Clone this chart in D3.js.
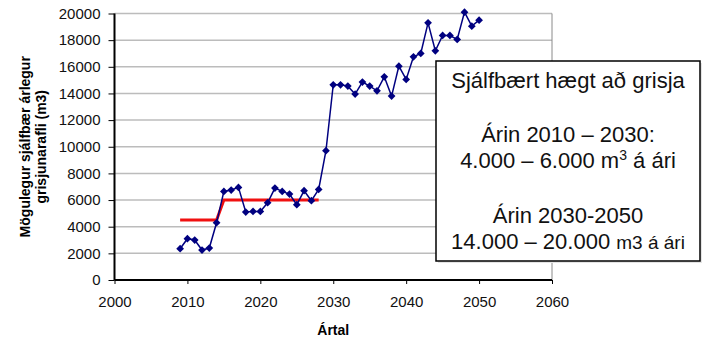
<!DOCTYPE html>
<meta charset="utf-8">
<style>
body { margin: 0; background: #fff; font-family: "Liberation Sans", Arial, sans-serif; }
.axis path, .axis line { stroke: #000; }
.axis text { font-size: 15px; fill: #111; font-family: "Liberation Sans", Arial, sans-serif; }
</style>
<script src="https://d3js.org/d3.v7.min.js"></script>
<body>
<div id="chart"></div>
<script>
// data
var years = [2009,2010,2011,2012,2013,2014,2015,2016,2017,2018,2019,2020,2021,2022,2023,2024,2025,2026,2027,2028,2029,
             2030,2031,2032,2033,2034,2035,2036,2037,2038,2039,2040,2041,2042,2043,2044,2045,2046,2047,2048,2049,2050];
var values = [2350,3100,3000,2250,2400,4300,6650,6750,6950,5100,5150,5150,5800,6900,6650,6450,5650,6700,5950,6800,9700,
              14650,14650,14550,13950,14850,14550,14200,15250,13800,16050,15050,16750,17000,19300,17200,18350,18350,18050,20100,19050,19500];
var redYears = [2009,2014,2015,2028];
var redValues = [4500,4500,6000,6000];
var xTicks = [2000,2010,2020,2030,2040,2050,2060];
var yTicks = [0,2000,4000,6000,8000,10000,12000,14000,16000,18000,20000];
var yTitle = ["Mögulegur sjálfbær árlegur", "grisjunarafli (m3)"];
var xTitle = "Ártal";

var W = 713, H = 355;
var margin = {top: 13.5, right: 161, bottom: 75, left: 114.5};
var width = W - margin.left - margin.right,
    height = H - margin.top - margin.bottom;

var svg = d3.select("#chart").append("svg")
    .attr("width", W).attr("height", H);

var g = svg.append("g")
    .attr("transform", "translate(" + margin.left + "," + margin.top + ")");

var x = d3.scaleLinear().domain([2000, 2060]).range([0, width]);
var y = d3.scaleLinear().domain([0, 20000]).range([height, 0]);

// gridlines
g.append("g").selectAll("line")
  .data(yTicks.filter(function(d) { return d > 0; }))
  .enter().append("line")
    .attr("x1", 0).attr("x2", width)
    .attr("y1", function(d) { return y(d); })
    .attr("y2", function(d) { return y(d); })
    .attr("stroke", "#bcbcbc")
    .attr("stroke-width", 1.5);

// right border of plot area
g.append("line")
  .attr("x1", width).attr("x2", width)
  .attr("y1", 0).attr("y2", height)
  .attr("stroke", "#8a8a8a").attr("stroke-width", 1);

// axes
var yAxis = g.append("g").attr("class", "axis")
  .call(d3.axisLeft(y).tickValues(yTicks).tickSize(6).tickPadding(8).tickFormat(d3.format("d")));
yAxis.select(".domain").attr("stroke-width", 2).attr("d", "M0,0V" + height);
yAxis.selectAll(".tick line").attr("stroke", "#555");

var xAxis = g.append("g").attr("class", "axis")
  .attr("transform", "translate(0," + height + ")")
  .call(d3.axisBottom(x).tickValues(xTicks).tickSize(4).tickPadding(12).tickFormat(d3.format("d")));
xAxis.select(".domain").attr("stroke-width", 2).attr("d", "M0,0H" + width);
xAxis.selectAll(".tick line").attr("stroke", "#777");

// red target line
g.append("path")
  .datum(redYears.map(function(d, i) { return [d, redValues[i]]; }))
  .attr("fill", "none")
  .attr("stroke", "#f01010")
  .attr("stroke-width", 3)
  .attr("d", d3.line()
    .x(function(d) { return x(d[0]); })
    .y(function(d) { return y(d[1]); }));

// blue series
var pts = years.map(function(d, i) { return [d, values[i]]; });
g.append("path")
  .datum(pts)
  .attr("fill", "none")
  .attr("stroke", "#000080")
  .attr("stroke-width", 1.5)
  .attr("d", d3.line()
    .x(function(d) { return x(d[0]); })
    .y(function(d) { return y(d[1]); }));

g.append("g").selectAll("path")
  .data(pts)
  .enter().append("path")
    .attr("d", d3.symbol().type(d3.symbolSquare).size(30))
    .attr("transform", function(d) { return "translate(" + x(d[0]) + "," + y(d[1]) + ") rotate(45)"; })
    .attr("fill", "#000080");

// axis titles
yTitle.forEach(function(t, i) {
  svg.append("text")
    .attr("transform", "translate(" + (30 + i * 16) + "," + (margin.top + height / 2) + ") rotate(-90)")
    .attr("text-anchor", "middle")
    .style("font-size", "14px")
    .style("font-weight", "bold")
    .text(t);
});

svg.append("text")
  .attr("x", margin.left + x(2030))
  .attr("y", 335)
  .attr("text-anchor", "middle")
  .style("font-size", "14px")
  .style("font-weight", "bold")
  .text(xTitle);

// text box
var box = {x: 436, y: 61, w: 264, h: 200};
svg.append("rect")
  .attr("x", box.x + 2).attr("y", box.y + 2)
  .attr("width", box.w).attr("height", box.h)
  .attr("fill", "#e4e4e4");
svg.append("rect")
  .attr("x", box.x).attr("y", box.y)
  .attr("width", box.w).attr("height", box.h)
  .attr("fill", "#fff")
  .attr("stroke", "#000")
  .attr("stroke-width", 1.5);

var cx = box.x + box.w / 2;
function boxText(yy) {
  return svg.append("text")
    .attr("x", cx).attr("y", yy)
    .attr("text-anchor", "middle")
    .style("font-size", "22px")
    .style("fill", "#111");
}
boxText(88).text("Sjálfbært hægt að grisja");
boxText(141.5).text("Árin 2010 – 2030:");
var t3 = boxText(168);
t3.append("tspan").text("4.000 – 6.000 m");
t3.append("tspan").attr("dy", -8).style("font-size", "14px").text("3");
t3.append("tspan").attr("dy", 8).text(" á ári");
boxText(222.5).text("Árin 2030-2050");
var t5 = boxText(249);
t5.append("tspan").text("14.000 – 20.000 ");
t5.append("tspan").style("font-size", "19px").text("m3 á ári");
</script>
</body>
